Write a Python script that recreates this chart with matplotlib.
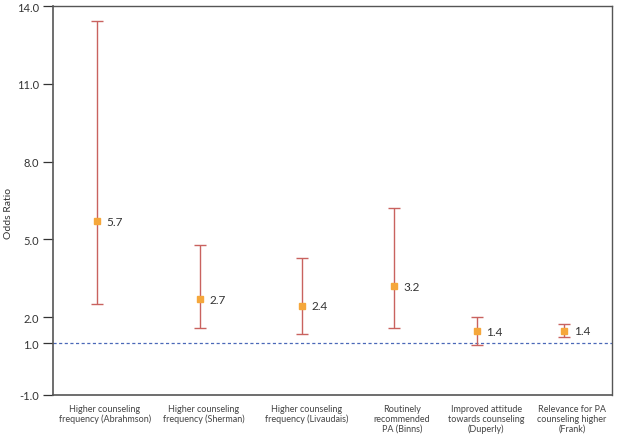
import matplotlib
matplotlib.use("Agg")
import matplotlib.pyplot as plt

categories = [
    "Higher counseling\nfrequency (Abrahmson)",
    "Higher counseling\nfrequency (Sherman)",
    "Higher counseling\nfrequency (Livaudais)",
    "Routinely\nrecommended\nPA (Binns)",
    "Improved attitude\ntowards counseling\n(Duperly)",
    "Relevance for PA\ncounseling higher\n(Frank)",
]
odds_ratio = [5.7, 2.7, 2.45, 3.2, 1.45, 1.47]
lower_ci = [2.5, 1.58, 1.37, 1.6, 0.92, 1.22]
upper_ci = [13.42, 4.8, 4.28, 6.2, 2.0, 1.72]
value_labels = ["5.7", "2.7", "2.4", "3.2", "1.4", "1.4"]
y_ticks = [-1.0, 1.0, 2.0, 5.0, 8.0, 11.0, 14.0]
reference_line = 1.0

# layout (axes-fraction positions)
point_x = [0.0787, 0.263, 0.445, 0.61, 0.758, 0.914]
label_x = [0.093, 0.270, 0.454, 0.624, 0.775, 0.928]

plt.rcParams['font.family'] = ['Lato', 'DejaVu Sans']

fig = plt.figure(figsize=(6.17, 4.39), dpi=100)
ax = fig.add_axes([53 / 617, 1 - 396 / 439, 559 / 617, 389 / 439])

yerr = [[o - l for o, l in zip(odds_ratio, lower_ci)],
        [u - o for o, u in zip(odds_ratio, upper_ci)]]
ax.errorbar(point_x, odds_ratio, yerr=yerr, fmt='none', ecolor='#c9625f',
            elinewidth=1.0, capsize=4.2, capthick=1.0, zorder=2)
ax.plot(point_x, odds_ratio, 's', color='#f5a73b', markersize=5, zorder=3)
for x, y, t in zip(point_x, odds_ratio, value_labels):
    ax.annotate(t, (x, y), xytext=(7, 0), textcoords='offset points',
                va='center', ha='left', fontsize=8.5, color='#333333')

ax.axhline(reference_line, color='#4a68b8', linestyle=(0, (2.5, 2)), linewidth=0.9, zorder=1)

ax.set_xlim(0, 1)
ax.set_ylim(-1.0, 14.0)
ax.set_yticks(y_ticks)
ax.set_yticklabels([f"{v:.1f}" for v in y_ticks])
ax.set_xticks([])
ax.tick_params(axis='y', direction='out', length=7, width=0.9, pad=3,
               labelsize=8, colors='#333333')
for s in ax.spines.values():
    s.set_color('#555555')
    s.set_linewidth(1.0)
ax.spines['left'].set_linewidth(1.2)
ax.spines['bottom'].set_linewidth(1.2)

ax.set_ylabel("Odds Ratio", fontsize=7.5, color='#333333', va='center')
ax.yaxis.set_label_coords(-44 / 559, (396 - 214) / 389)

for x, c in zip(label_x, categories):
    ax.text(x, -(405 - 396) / 389, c, transform=ax.transAxes, ha='center', va='top',
            fontsize=6.5, color='#444444', linespacing=1.1)

fig.savefig("out.png", dpi=100, facecolor='white')
